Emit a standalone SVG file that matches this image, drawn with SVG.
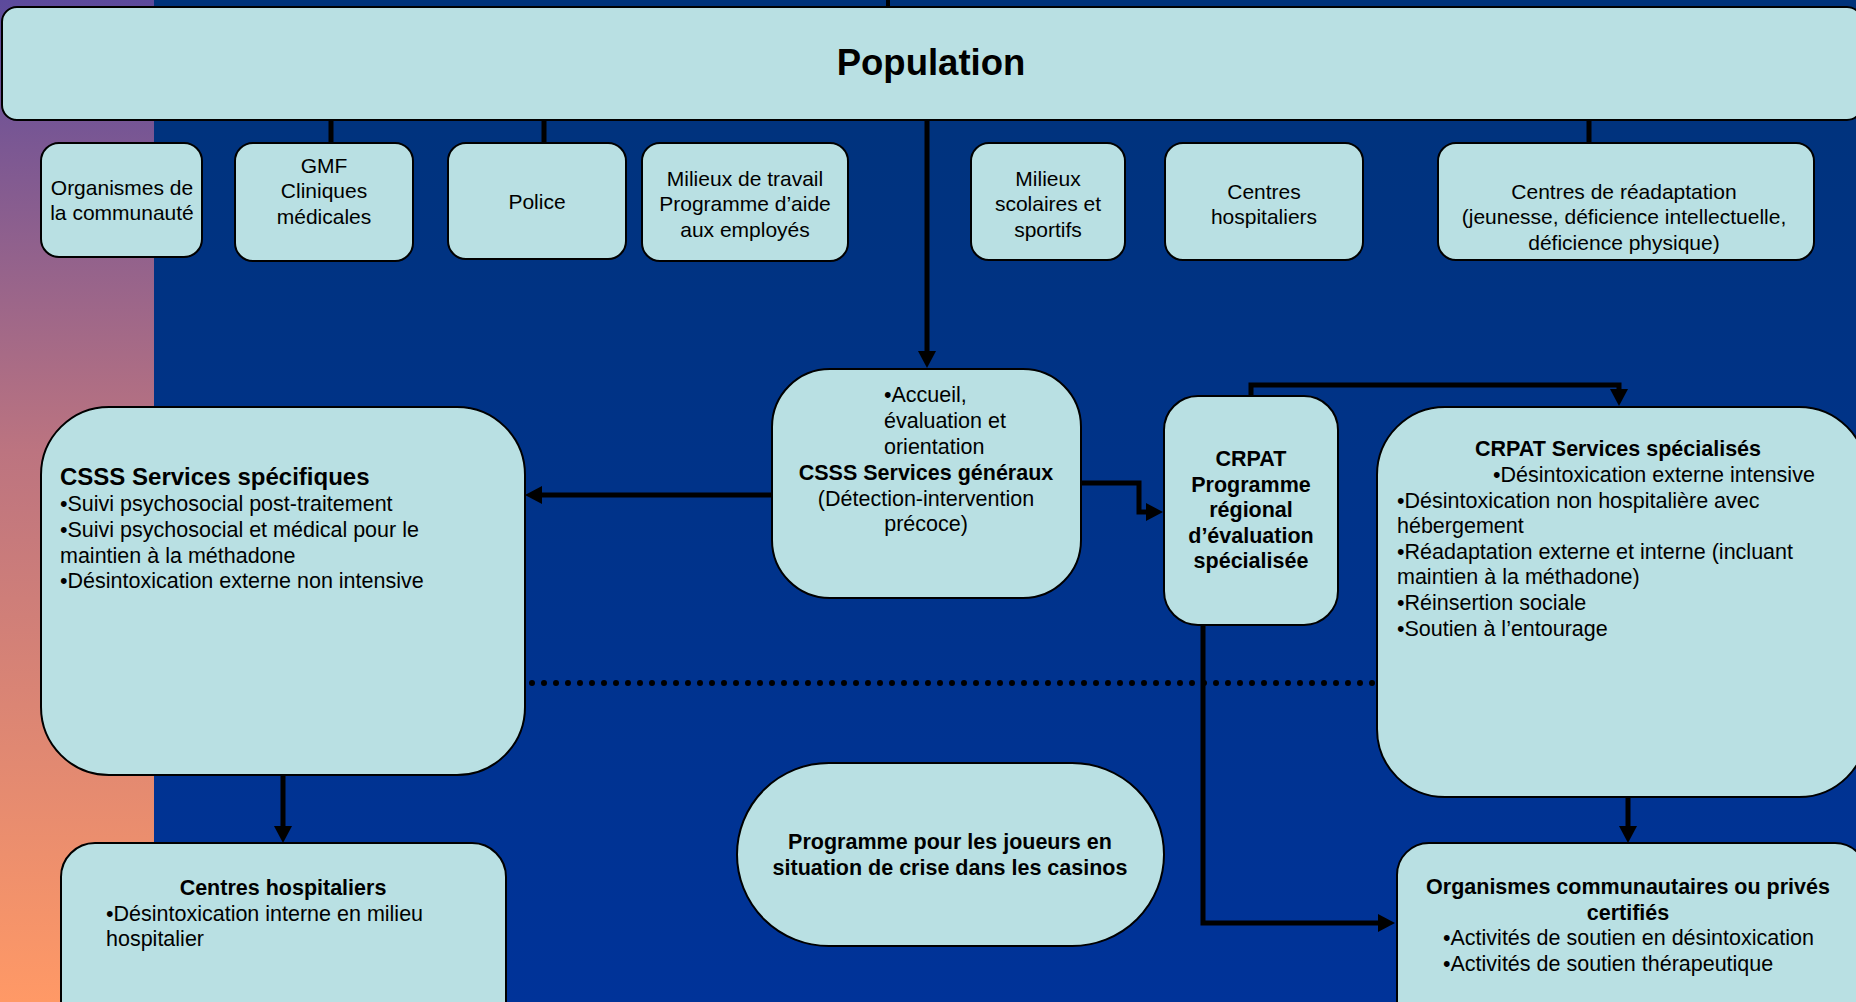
<svg xmlns="http://www.w3.org/2000/svg" width="1856" height="1002" viewBox="0 0 1856 1002">
<defs>
<linearGradient id="strip" x1="0" y1="0" x2="0" y2="1">
<stop offset="0" stop-color="#5C4A9C"/>
<stop offset="0.45" stop-color="#BC7480"/>
<stop offset="1" stop-color="#FF9966"/>
</linearGradient>
<linearGradient id="blue" x1="0" y1="0" x2="0" y2="1">
<stop offset="0" stop-color="#00337A"/>
<stop offset="1" stop-color="#003399"/>
</linearGradient>
<marker id="arr" markerUnits="userSpaceOnUse" markerWidth="18" markerHeight="18" refX="0" refY="9" orient="auto" overflow="visible">
<path d="M0,0 L17,9 L0,18 Z" fill="#000"/>
</marker>
</defs>
<style>
.n{fill:#B9E0E3;stroke:#000;stroke-width:2}
.t{font-family:"Liberation Sans",Arial,sans-serif;font-size:21px;fill:#000}
.c{text-anchor:middle}
.b{font-weight:bold}
.m{font-size:21.5px}
.k{fill:none;stroke:#000;stroke-width:5}
.a{marker-end:url(#arr)}
</style>
<rect x="0" y="0" width="1856" height="1002" fill="url(#blue)"/>
<rect x="0" y="0" width="154" height="1002" fill="url(#strip)"/>

<g id="population">
<rect class="n" x="2" y="7" width="1860" height="113" rx="15"/>
<text class="t c b" x="931" y="75" style="font-size:36.5px">Population</text>
</g>

<g id="organismes-communaute">
<rect class="n" x="41" y="143" width="161" height="114" rx="18"/>
<text class="t c" x="122" y="194.5">Organismes de</text>
<text class="t c" x="122" y="220">la communauté</text>
</g>

<g id="gmf">
<rect class="n" x="235" y="143" width="178" height="118" rx="18"/>
<text class="t c" x="324" y="172.5">GMF</text>
<text class="t c" x="324" y="198">Cliniques</text>
<text class="t c" x="324" y="223.5">médicales</text>
</g>

<g id="police">
<rect class="n" x="448" y="143" width="178" height="116" rx="18"/>
<text class="t c" x="537" y="208.5">Police</text>
</g>

<g id="milieux-travail">
<rect class="n" x="642" y="143" width="206" height="118" rx="18"/>
<text class="t c" x="745" y="185.5">Milieux de travail</text>
<text class="t c" x="745" y="211">Programme d’aide</text>
<text class="t c" x="745" y="236.5">aux employés</text>
</g>

<g id="milieux-scolaires">
<rect class="n" x="971" y="143" width="154" height="117" rx="18"/>
<text class="t c" x="1048" y="185.5">Milieux</text>
<text class="t c" x="1048" y="211">scolaires et</text>
<text class="t c" x="1048" y="236.5">sportifs</text>
</g>

<g id="centres-hospitaliers-haut">
<rect class="n" x="1165" y="143" width="198" height="117" rx="18"/>
<text class="t c" x="1264" y="198.5">Centres</text>
<text class="t c" x="1264" y="224">hospitaliers</text>
</g>

<g id="centres-readaptation">
<rect class="n" x="1438" y="143" width="376" height="117" rx="18"/>
<text class="t c" x="1624" y="198.5">Centres de réadaptation</text>
<text class="t c" x="1624" y="224">(jeunesse, déficience intellectuelle,</text>
<text class="t c" x="1624" y="249.5">déficience physique)</text>
</g>

<g id="csss-generaux">
<rect class="n" x="772" y="369" width="309" height="229" rx="58"/>
<text class="t m" x="884" y="402">•Accueil,</text>
<text class="t m" x="884" y="428">évaluation et</text>
<text class="t m" x="884" y="454">orientation</text>
<text class="t m c b" x="926" y="480">CSSS Services généraux</text>
<text class="t m c" x="926" y="505.5">(Détection-intervention</text>
<text class="t m c" x="926" y="531">précoce)</text>
</g>

<g id="crpat">
<rect class="n" x="1164" y="396" width="174" height="229" rx="34"/>
<text class="t m c b" x="1251" y="466">CRPAT</text>
<text class="t m c b" x="1251" y="491.5">Programme</text>
<text class="t m c b" x="1251" y="517">régional</text>
<text class="t m c b" x="1251" y="542.5">d’évaluation</text>
<text class="t m c b" x="1251" y="568">spécialisée</text>
</g>

<g id="csss-specifiques">
<rect class="n" x="41" y="407" width="484" height="368" rx="68"/>
<text class="t b" x="60" y="485" style="font-size:24px">CSSS Services spécifiques</text>
<text class="t m" x="60" y="511">•Suivi psychosocial post-traitement</text>
<text class="t m" x="60" y="537">•Suivi psychosocial et médical pour le</text>
<text class="t m" x="60" y="562.5">maintien à la méthadone</text>
<text class="t m" x="60" y="588">•Désintoxication externe non intensive</text>
</g>

<g id="crpat-specialises">
<rect class="n" x="1377" y="407" width="490" height="390" rx="68"/>
<text class="t m c b" x="1618" y="455.5">CRPAT Services spécialisés</text>
<text class="t m" x="1493" y="482">•Désintoxication externe intensive</text>
<text class="t m" x="1397" y="507.6">•Désintoxication non hospitalière avec</text>
<text class="t m" x="1397" y="533.2">hébergement</text>
<text class="t m" x="1397" y="558.8">•Réadaptation externe et interne (incluant</text>
<text class="t m" x="1397" y="584.4">maintien à la méthadone)</text>
<text class="t m" x="1397" y="610">•Réinsertion sociale</text>
<text class="t m" x="1397" y="635.6">•Soutien à l’entourage</text>
</g>

<g id="centres-hospitaliers-bas">
<rect class="n" x="61" y="843" width="445" height="200" rx="34"/>
<text class="t m c b" x="283" y="895">Centres hospitaliers</text>
<text class="t m" x="106" y="920.5">•Désintoxication interne en milieu</text>
<text class="t m" x="106" y="946">hospitalier</text>
</g>

<g id="programme-joueurs">
<rect class="n" x="737" y="763" width="427" height="183" rx="92" ry="91.5"/>
<text class="t m c b" x="950" y="849">Programme pour les joueurs en</text>
<text class="t m c b" x="950" y="874.5">situation de crise dans les casinos</text>
</g>

<g id="organismes-certifies">
<rect class="n" x="1397" y="843" width="470" height="200" rx="32"/>
<text class="t m c b" x="1628" y="894">Organismes communautaires ou privés</text>
<text class="t m c b" x="1628" y="919.5">certifiés</text>
<text class="t m" x="1443" y="945">•Activités de soutien en désintoxication</text>
<text class="t m" x="1443" y="970.5">•Activités de soutien thérapeutique</text>
</g>

<g id="connectors">
<line x1="888" y1="0" x2="888" y2="7" stroke="#000" stroke-width="4"/>
<line class="k" x1="331" y1="121" x2="331" y2="143"/>
<line class="k" x1="544" y1="121" x2="544" y2="143"/>
<line class="k" x1="1589" y1="121" x2="1589" y2="143"/>
<path class="k a" d="M927,121 V351"/>
<path class="k a" d="M772,495 H542"/>
<path class="k a" d="M1081,483 H1139 V512 H1146"/>
<path class="k a" d="M1251,396 V385 H1619 V389"/>
<path class="k a" d="M1203,625 V923 H1378"/>
<path class="k a" d="M1628,797 V826"/>
<path class="k a" d="M283,775 V826"/>
<path d="M532,683 H1377" fill="none" stroke="#000" stroke-width="6" stroke-linecap="round" stroke-dasharray="0 12"/>
</g>
</svg>
